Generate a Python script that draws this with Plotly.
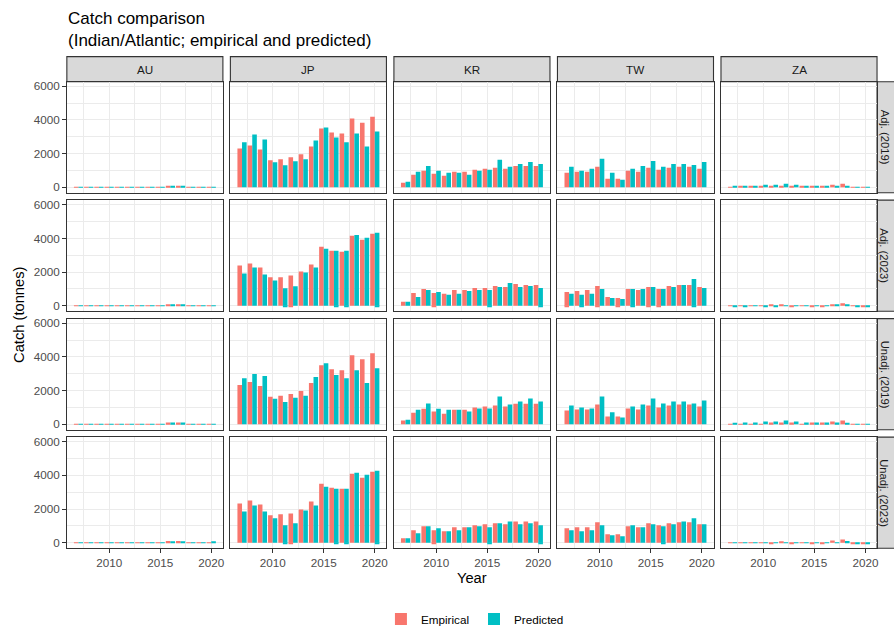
import plotly.graph_objects as go

# ---- data ----
years = [2007, 2008, 2009, 2010, 2011, 2012, 2013, 2014, 2015, 2016, 2017, 2018, 2019, 2020]
countries = ["AU", "JP", "KR", "TW", "ZA"]
variants = ["Adj. (2019)", "Adj. (2023)", "Unadj. (2019)", "Unadj. (2023)"]
series_names = ["Empirical", "Predicted"]
series_colors = ["#F8766D", "#00BFC4"]

# AU
au_adj19_emp = [20, 20, 20, 20, 20, 20, 20, 20, 20, 100, 100, 20, 20, 20]
au_adj19_pred = [20, 20, 20, 20, 20, 20, 20, 20, 20, 100, 100, 20, 20, 20]
au_adj23_emp = [20, 20, 20, 20, 20, 20, 20, 20, 20, 100, 100, 20, 20, 20]
au_adj23_pred = [20, 20, 20, 20, 20, 20, 20, 20, 20, 60, 60, 20, 20, 20]
au_unadj19_emp = [20, 20, 20, 20, 20, 20, 20, 20, 20, 100, 100, 20, 20, 20]
au_unadj19_pred = [20, 20, 20, 20, 20, 20, 20, 20, 20, 100, 100, 20, 20, 20]
au_unadj23_emp = [20, 20, 20, 20, 20, 20, 20, 20, 20, 100, 100, 20, 20, 20]
au_unadj23_pred = [20, 20, 20, 20, 20, 20, 20, 20, 20, 40, 40, 20, 20, 50]

# JP
jp_adj19_emp = [2310, 2490, 2250, 1610, 1670, 1780, 1960, 2430, 3490, 3250, 3200, 4080, 3840, 4190]
jp_adj19_pred = [2670, 3140, 2840, 1490, 1310, 1550, 1670, 2780, 3550, 2960, 2670, 3200, 2430, 3310]
jp_adj23_emp = [2390, 2510, 2270, 1690, 1690, 1800, 2040, 2450, 3510, 3270, 3210, 4160, 3920, 4270]
jp_adj23_pred = [1920, 2270, 1860, 1510, 1040, 1160, 1980, 2270, 3390, 3270, 3270, 4210, 4040, 4330]
jp_unadj19_emp = [2330, 2510, 2270, 1630, 1690, 1800, 1980, 2450, 3510, 3270, 3210, 4100, 3860, 4210]
jp_unadj19_pred = [2740, 2980, 2860, 1510, 1330, 1570, 1690, 2800, 3630, 2920, 2740, 3210, 2450, 3330]
jp_unadj23_emp = [2330, 2510, 2270, 1630, 1690, 1740, 1980, 2450, 3510, 3270, 3210, 4100, 3860, 4210]
jp_unadj23_pred = [1860, 2210, 1860, 1450, 1040, 1160, 1920, 2210, 3330, 3210, 3210, 4160, 4040, 4270]

# KR
kr_adj19_emp = [270, 750, 980, 800, 690, 920, 920, 1040, 1100, 1160, 1100, 1270, 1270, 1270]
kr_adj19_pred = [330, 920, 1270, 980, 860, 860, 750, 980, 1040, 1630, 1220, 1390, 1510, 1390]
kr_adj23_emp = [240, 760, 1000, 760, 710, 940, 940, 1060, 1060, 1180, 1120, 1290, 1240, 1240]
kr_adj23_pred = [240, 530, 940, 820, 650, 710, 880, 940, 940, 1120, 1350, 1120, 1180, 1060]
kr_unadj19_emp = [220, 690, 920, 760, 630, 860, 860, 1000, 1060, 1120, 1060, 1220, 1220, 1220]
kr_unadj19_pred = [270, 860, 1240, 920, 860, 860, 760, 940, 940, 1650, 1180, 1350, 1530, 1350]
kr_unadj23_emp = [270, 750, 980, 750, 690, 920, 920, 1040, 1100, 1160, 1100, 1270, 1270, 1270]
kr_unadj23_pred = [270, 570, 980, 860, 690, 750, 920, 980, 920, 1160, 1270, 1100, 1160, 1040]

# TW
tw_adj19_emp = [860, 920, 920, 1220, 510, 510, 980, 920, 1160, 1040, 1160, 1220, 1220, 1100]
tw_adj19_pred = [1220, 980, 1100, 1690, 860, 450, 1100, 1270, 1570, 1220, 1390, 1390, 1330, 1510]
tw_adj23_emp = [820, 880, 940, 1180, 530, 470, 1000, 940, 1120, 1000, 1180, 1240, 1240, 1120]
tw_adj23_pred = [710, 650, 710, 1000, 470, 410, 1000, 1000, 1120, 1000, 1120, 1240, 1590, 1060]
tw_unadj19_emp = [820, 880, 880, 1180, 470, 470, 940, 880, 1120, 1000, 1120, 1180, 1180, 1060]
tw_unadj19_pred = [1120, 1000, 940, 1650, 710, 410, 1060, 1180, 1530, 1240, 1350, 1350, 1240, 1410]
tw_unadj23_emp = [860, 920, 920, 1220, 510, 510, 980, 920, 1160, 1040, 1160, 1220, 1220, 1100]
tw_unadj23_pred = [750, 690, 750, 1040, 450, 390, 1040, 920, 1100, 980, 1100, 1270, 1450, 1100]

# ZA
za_adj19_emp = [30, 40, 40, 40, 100, 100, 100, 40, 100, 100, 160, 220, 30, 30]
za_adj19_pred = [100, 100, 100, 160, 160, 220, 160, 100, 100, 100, 100, 100, 30, 30]
za_adj23_emp = [30, 30, 30, 30, 60, 90, -60, 30, -60, -60, 100, 150, -20, -30]
za_adj23_pred = [-50, -50, 30, -40, -40, 30, 30, 30, 30, 30, 40, 100, -30, -30]
za_unadj19_emp = [30, 30, 30, 30, 100, 100, 100, 30, 100, 100, 160, 220, 30, 30]
za_unadj19_pred = [80, 100, 100, 160, 160, 220, 160, 100, 100, 100, 100, 80, 30, 30]
za_unadj23_emp = [30, 30, 30, 30, -50, 60, -50, 30, -50, -50, 130, 190, -30, -30]
za_unadj23_pred = [30, 30, 30, 30, 30, 30, 30, 30, 30, 30, 30, 100, -30, -30]

# small negative parts stacked below zero (2023 runs)
jp_23_emp_neg = [0, 0, 0, 0, 0, -50, 0, 0, 0, 0, 0, 0, 0, 0]
jp_23_pred_neg = [0, 0, 0, 0, -50, 0, 0, 0, 0, -50, -50, 0, 0, -50]
kr_23_emp_neg = [0, 0, 0, -50, 0, 0, 0, 0, 0, 0, 0, 0, 0, 0]
kr_23_pred_neg = [0, 0, 0, 0, 0, 0, 0, 0, -50, 0, 0, 0, 0, -50]
tw_adj23_emp_neg = [-50, 0, 0, -50, 0, -50, 0, 0, -50, -50, 0, 0, 0, 0]
tw_adj23_pred_neg = [0, -50, 0, 0, 0, 0, -50, 0, 0, 0, 0, 0, -50, 0]
tw_unadj23_pred_neg = [0, 0, 0, 0, 0, 0, 0, 0, 0, -70, 0, 0, 0, 0]

values = {
    ("AU", 0): (au_adj19_emp, au_adj19_pred), ("AU", 1): (au_adj23_emp, au_adj23_pred),
    ("AU", 2): (au_unadj19_emp, au_unadj19_pred), ("AU", 3): (au_unadj23_emp, au_unadj23_pred),
    ("JP", 0): (jp_adj19_emp, jp_adj19_pred), ("JP", 1): (jp_adj23_emp, jp_adj23_pred),
    ("JP", 2): (jp_unadj19_emp, jp_unadj19_pred), ("JP", 3): (jp_unadj23_emp, jp_unadj23_pred),
    ("KR", 0): (kr_adj19_emp, kr_adj19_pred), ("KR", 1): (kr_adj23_emp, kr_adj23_pred),
    ("KR", 2): (kr_unadj19_emp, kr_unadj19_pred), ("KR", 3): (kr_unadj23_emp, kr_unadj23_pred),
    ("TW", 0): (tw_adj19_emp, tw_adj19_pred), ("TW", 1): (tw_adj23_emp, tw_adj23_pred),
    ("TW", 2): (tw_unadj19_emp, tw_unadj19_pred), ("TW", 3): (tw_unadj23_emp, tw_unadj23_pred),
    ("ZA", 0): (za_adj19_emp, za_adj19_pred), ("ZA", 1): (za_adj23_emp, za_adj23_pred),
    ("ZA", 2): (za_unadj19_emp, za_unadj19_pred), ("ZA", 3): (za_unadj23_emp, za_unadj23_pred),
}
negatives = {
    ("JP", 1): (jp_23_emp_neg, jp_23_pred_neg), ("JP", 3): (jp_23_emp_neg, jp_23_pred_neg),
    ("KR", 1): (kr_23_emp_neg, kr_23_pred_neg), ("KR", 3): (kr_23_emp_neg, kr_23_pred_neg),
    ("TW", 1): (tw_adj23_emp_neg, tw_adj23_pred_neg),
    ("TW", 3): ([0] * len(years), tw_unadj23_pred_neg),
}

# ---- layout geometry (pixels) ----
W, H = 894, 634
PX0, PW, GAP = 67, 156.4, 7.5
PY0, PH = 80.7, 112.5
STRIP = 25.4
XR = [2005.86, 2021.14]
YR = [-322, 6270]
BORDER = "#333333"
GRID = "#EBEBEB"
FONT = "Liberation Sans, Arial"
TICKFONT = dict(family=FONT, size=11.7, color="#4D4D4D")


def fx(px):
    return px / W


def fy(px):
    return 1 - px / H


fig = go.Figure()
shapes = []
annotations = []

for r, variant in enumerate(variants):
    top = PY0 + r * (PH + GAP)
    for c, country in enumerate(countries):
        left = PX0 + c * (PW + GAP)
        i = r * 5 + c + 1
        xa = "x" if i == 1 else "x%d" % i
        ya = "y" if i == 1 else "y%d" % i

        pair = values[(country, r)]
        negs = negatives.get((country, r))
        for k in range(2):
            fig.add_trace(go.Bar(
                x=years, y=pair[k], width=0.45, offset=-0.45 if k == 0 else 0,
                marker=dict(color=series_colors[k], line=dict(width=0)),
                name=series_names[k], legendgroup=series_names[k],
                showlegend=(i == 1), xaxis=xa, yaxis=ya,
            ))
            if negs is not None:
                fig.add_trace(go.Bar(
                    x=years, y=negs[k], width=0.45, offset=-0.45 if k == 0 else 0,
                    marker=dict(color=series_colors[k], line=dict(width=0)),
                    legendgroup=series_names[k], showlegend=False,
                    xaxis=xa, yaxis=ya,
                ))

        bottom_row = r == len(variants) - 1
        left_col = c == 0
        fig.layout["xaxis" if i == 1 else "xaxis%d" % i] = dict(
            domain=[fx(left), fx(left + PW)], anchor=ya, range=XR,
            tickvals=[2010, 2015, 2020], showticklabels=bottom_row,
            ticks="outside" if bottom_row else "", ticklen=3.7, tickwidth=1.1,
            tickcolor=BORDER, tickfont=TICKFONT,
            showgrid=True, gridcolor=GRID, gridwidth=1.1,
            minor=dict(tickvals=[2007.5, 2012.5, 2017.5], showgrid=True,
                       gridcolor=GRID, gridwidth=0.55),
            showline=True, mirror=True, linecolor=BORDER, linewidth=1.1,
            zeroline=False, fixedrange=True,
        )
        fig.layout["yaxis" if i == 1 else "yaxis%d" % i] = dict(
            domain=[fy(top + PH), fy(top)], anchor=xa, range=YR,
            tickvals=[0, 2000, 4000, 6000], showticklabels=left_col,
            ticks="outside" if left_col else "", ticklen=3.7, tickwidth=1.1,
            tickcolor=BORDER, tickfont=TICKFONT,
            showgrid=True, gridcolor=GRID, gridwidth=1.1,
            minor=dict(tickvals=[1000, 3000, 5000], showgrid=True,
                       gridcolor=GRID, gridwidth=0.55),
            showline=True, mirror=True, linecolor=BORDER, linewidth=1.1,
            zeroline=False, fixedrange=True,
        )

        # top strips
        if r == 0:
            shapes.append(dict(type="rect", xref="paper", yref="paper",
                               x0=fx(left), x1=fx(left + PW), y0=fy(PY0), y1=fy(PY0 - STRIP),
                               fillcolor="#D9D9D9", line=dict(color=BORDER, width=1.1), layer="below"))
            annotations.append(dict(text=country, xref="paper", yref="paper",
                                    x=fx(left + PW / 2), y=fy(PY0 - STRIP / 2),
                                    showarrow=False, xanchor="center", yanchor="middle",
                                    font=dict(family=FONT, size=11.7, color="#1A1A1A")))
    # right strips (run off the page edge, like the original)
    sx0 = PX0 + 5 * PW + 4 * GAP
    shapes.append(dict(type="rect", xref="paper", yref="paper",
                       x0=fx(sx0), x1=fx(sx0 + STRIP), y0=fy(top + PH), y1=fy(top),
                       fillcolor="#D9D9D9", line=dict(color=BORDER, width=1.1), layer="below"))
    annotations.append(dict(text=variant, xref="paper", yref="paper",
                            x=fx(886.5), y=fy(top + PH / 2), textangle=90,
                            showarrow=False, xanchor="center", yanchor="middle",
                            font=dict(family=FONT, size=11.2, color="#1A1A1A")))

# title and axis titles
annotations.append(dict(text="Catch comparison<br>(Indian/Atlantic; empirical and predicted)",
                        xref="paper", yref="paper", x=fx(66), y=fy(5), align="left",
                        showarrow=False, xanchor="left", yanchor="top",
                        font=dict(family=FONT, size=17, color="black")))
annotations.append(dict(text="Year", xref="paper", yref="paper", x=fx(473), y=fy(583),
                        showarrow=False, xanchor="center", yanchor="middle",
                        font=dict(family=FONT, size=14.7, color="black")))
annotations.append(dict(text="Catch (tonnes)", xref="paper", yref="paper", x=fx(19), y=fy(317),
                        textangle=-90, showarrow=False, xanchor="center", yanchor="middle",
                        font=dict(family=FONT, size=14.7, color="black")))

fig.update_layout(
    width=W, height=H,
    margin=dict(l=0, r=0, t=0, b=0),
    paper_bgcolor="white", plot_bgcolor="white",
    barmode="overlay",
    font=dict(family=FONT, color="black"),
    legend=dict(orientation="h", x=fx(476), xanchor="center", y=fy(625), yanchor="middle",
                font=dict(family=FONT, size=11.7, color="black"),
                bgcolor="rgba(0,0,0,0)"),
    shapes=shapes,
    annotations=annotations,
)

# page has a default body margin; remove it so the figure sits at the window corner
fig.write_html("out.html", config={"displayModeBar": False},
               post_script="document.body.style.margin='0px';")
